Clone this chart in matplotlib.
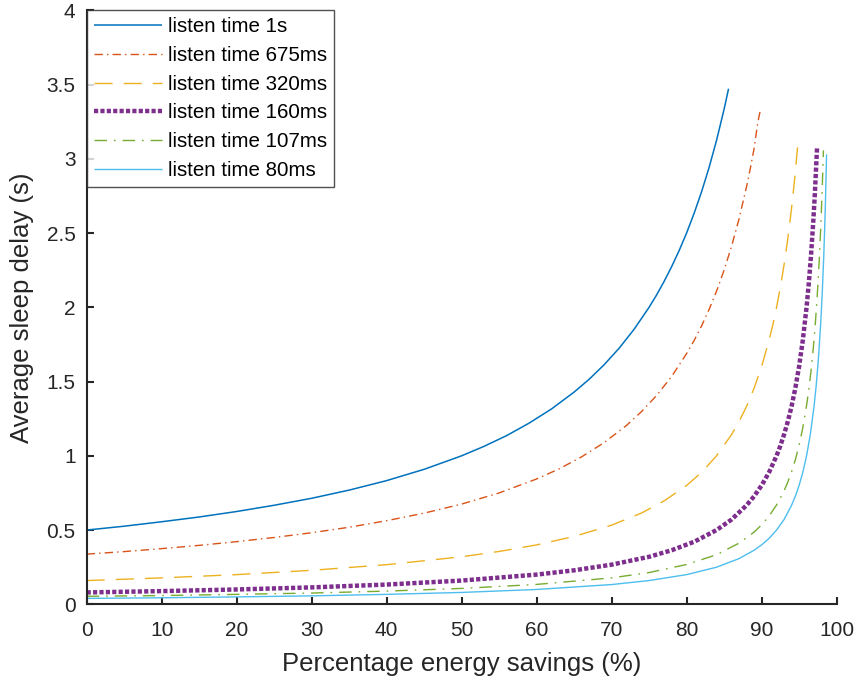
import matplotlib
matplotlib.use("Agg")
import matplotlib.pyplot as plt
from matplotlib.ticker import FuncFormatter, MultipleLocator

plt.rcParams['font.family'] = ['Liberation Sans', 'DejaVu Sans']
plt.rcParams['lines.scale_dashes'] = False

labels = ["listen time 1s", "listen time 675ms", "listen time 320ms",
          "listen time 160ms", "listen time 107ms", "listen time 80ms"]

x_1s = [0, 5, 10, 15, 20, 25, 30, 35, 40, 45, 50, 53, 56, 59, 62, 65, 67, 69, 71, 73, 75,
        76, 77, 78, 79, 80, 81, 82, 83, 84, 85, 85.6]
y_1s = [0.500, 0.526, 0.556, 0.588, 0.625, 0.667, 0.714, 0.769, 0.833, 0.909, 1.000, 1.064,
        1.136, 1.220, 1.316, 1.429, 1.515, 1.613, 1.724, 1.852, 2.000, 2.083, 2.174, 2.273,
        2.381, 2.500, 2.632, 2.778, 2.941, 3.125, 3.333, 3.472]

x_675 = [0, 5, 10, 15, 20, 25, 30, 35, 40, 45, 50, 55, 60, 63, 66, 69, 72, 74, 76, 78, 80,
         81, 82, 83, 84, 85, 86, 87, 88, 88.5, 89, 89.5, 89.9]
y_675 = [0.338, 0.355, 0.375, 0.397, 0.422, 0.450, 0.482, 0.519, 0.563, 0.614, 0.675, 0.750,
         0.844, 0.912, 0.993, 1.089, 1.205, 1.298, 1.406, 1.534, 1.688, 1.776, 1.875, 1.985,
         2.109, 2.250, 2.411, 2.596, 2.813, 2.935, 3.068, 3.245, 3.342]

x_320 = [0, 10, 20, 30, 40, 50, 55, 60, 65, 70, 74, 77, 80, 82, 84, 86, 87, 88, 89, 90, 91,
         91.5, 92, 92.5, 93, 93.5, 94, 94.4, 94.8]
y_320 = [0.160, 0.178, 0.200, 0.229, 0.267, 0.320, 0.356, 0.400, 0.457, 0.533, 0.615, 0.696,
         0.800, 0.889, 1.000, 1.143, 1.231, 1.333, 1.455, 1.600, 1.778, 1.882, 2.000, 2.133,
         2.286, 2.462, 2.667, 2.857, 3.077]

x_160 = [0, 10, 20, 30, 40, 50, 60, 65, 70, 75, 78, 81, 84, 86, 88, 89, 90, 91, 92, 92.5, 93,
         93.5, 94, 94.5, 95, 95.5, 96, 96.3, 96.6, 96.9, 97.1, 97.4]
y_160 = [0.080, 0.089, 0.100, 0.114, 0.133, 0.160, 0.200, 0.229, 0.267, 0.320, 0.364, 0.421,
         0.500, 0.571, 0.667, 0.727, 0.800, 0.889, 1.000, 1.067, 1.143, 1.231, 1.333, 1.455,
         1.600, 1.778, 2.000, 2.162, 2.353, 2.581, 2.759, 3.077]

x_107 = [0, 10, 20, 30, 40, 50, 60, 70, 75, 80, 84, 87, 89, 90, 91, 92, 93, 93.5, 94, 94.5,
         95, 95.5, 96, 96.3, 96.6, 96.9, 97.2, 97.5, 97.7, 97.9, 98.1, 98.25]
y_107 = [0.054, 0.059, 0.067, 0.076, 0.089, 0.107, 0.134, 0.178, 0.214, 0.268, 0.334, 0.412,
         0.486, 0.535, 0.594, 0.669, 0.764, 0.823, 0.892, 0.973, 1.070, 1.189, 1.338, 1.446,
         1.574, 1.726, 1.911, 2.140, 2.326, 2.548, 2.816, 3.057]

x_80 = [0, 10, 20, 30, 40, 50, 60, 70, 75, 80, 84, 87, 89, 90, 91, 92, 93, 94, 94.5, 95,
        95.5, 96, 96.5, 97, 97.3, 97.6, 97.9, 98.1, 98.3, 98.5, 98.67]
y_80 = [0.040, 0.044, 0.050, 0.057, 0.067, 0.080, 0.100, 0.133, 0.160, 0.200, 0.250, 0.308,
        0.364, 0.400, 0.444, 0.500, 0.571, 0.667, 0.727, 0.800, 0.889, 1.000, 1.143, 1.333,
        1.481, 1.667, 1.905, 2.105, 2.353, 2.667, 3.030]

xs = [x_1s, x_675, x_320, x_160, x_107, x_80]
ys = [y_1s, y_675, y_320, y_160, y_107, y_80]

colors = ['#0072BD', '#D95319', '#EDB120', '#7E2F8E', '#77AC30', '#4DBEEE']
widths = [1.1, 1.0, 1.0, 3.2, 1.0, 1.0]
dashes = [None, (6, 3, 1, 3), (13, 8), (3, 1.6), (9, 5, 1.2, 5), None]

fig = plt.figure(figsize=(8.58, 6.82), dpi=100)
ax = fig.add_axes([0.101, 0.1139, 0.874, 0.871])

for x, y, c, w, d, lab in zip(xs, ys, colors, widths, dashes, labels):
    line, = ax.plot(x, y, color=c, lw=w, label=lab, solid_capstyle='butt',
                    dash_capstyle='butt', solid_joinstyle='round')
    if d is not None:
        line.set_dashes(d)

ax.set_xlim(0, 100)
ax.set_ylim(0, 4)
ax.xaxis.set_major_locator(MultipleLocator(10))
ax.yaxis.set_major_locator(MultipleLocator(0.5))
ax.yaxis.set_major_formatter(FuncFormatter(lambda v, p: '%g' % v))

for s in ['top', 'right']:
    ax.spines[s].set_visible(False)
for s in ['left', 'bottom']:
    ax.spines[s].set_color('#262626')
    ax.spines[s].set_linewidth(1.5)
ax.tick_params(direction='in', length=5, width=1.5, color='#262626',
               labelsize=15, labelcolor='#262626')
ax.tick_params(axis='x', pad=12)
ax.tick_params(axis='y', pad=8)

ax.set_xlabel('Percentage energy savings (%)', fontsize=18.5, color='#262626', labelpad=9)
ax.set_ylabel('Average sleep delay (s)', fontsize=18.5, color='#262626', labelpad=9)

leg = ax.legend(loc='upper left', fontsize=14.8, frameon=True, fancybox=False,
                edgecolor='#262626', handlelength=3.3, handletextpad=0.3,
                labelspacing=0.47, borderaxespad=0, borderpad=0.35)
leg.get_frame().set_linewidth(1.0)
for t in leg.get_texts():
    t.set_color('#000000')

fig.savefig('out.png', dpi=100)
